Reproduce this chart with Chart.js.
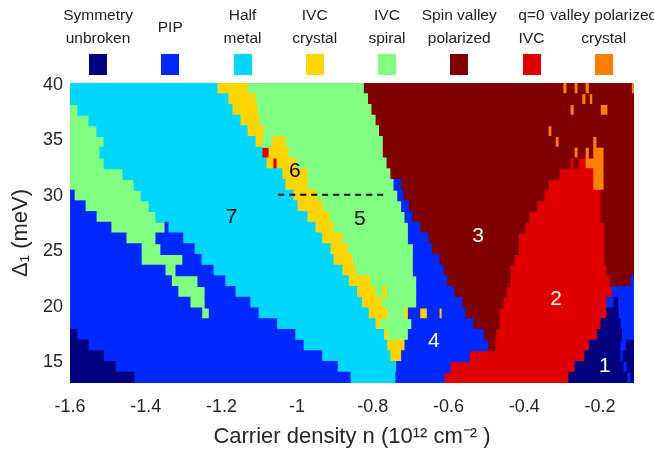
<!DOCTYPE html>
<html>
<head>
<meta charset="utf-8">
<script src="https://cdn.jsdelivr.net/npm/chart.js@4.4.1/dist/chart.umd.min.js"></script>
<style>
  html, body { margin: 0; padding: 0; background: #fff; }
  #wrap { position: relative; width: 654px; height: 458px; overflow: hidden; font-family: "Liberation Sans", Arial, sans-serif; }
  #phaseMap { position: absolute; left: 0; top: 0; }
  .key { position: absolute; top: 0; width: 140px; margin-left: -70px; text-align: center; }
  .key .txt { height: 46px; margin-top: 3px; display: flex; align-items: center; justify-content: center; font-size: 15.5px; line-height: 23px; color: #222; white-space: nowrap; }
  .key .box { width: 18px; height: 21px; margin: 5px auto 0; }
</style>
</head>
<body>
<div id="wrap">
  <canvas id="phaseMap" width="654" height="458"></canvas>
  <div id="keys"></div>
</div>
<script>
//phases, legend order
const phaseCodes = ["N", "P", "C", "Y", "G", "D", "R", "O"];
const phaseNames = ["Symmetry\nunbroken", "PIP", "Half\nmetal", "IVC\ncrystal", "IVC\nspiral", "Spin valley\npolarized", "q=0\nIVC", "valley polarized\ncrystal"];
const phaseColors = ["#000080", "#0028ff", "#00d7ff", "#ffd500", "#80ff80", "#800000", "#e00000", "#ff8000"];

//Delta_1 rows (meV), top to bottom
const deltaRows = [39.668, 38.704, 37.739, 36.775, 35.811, 34.846, 33.882, 32.918, 31.954, 30.989,
  30.025, 29.061, 28.096, 27.132, 26.168, 25.204, 24.239, 23.275, 22.311, 21.346,
  20.382, 19.418, 18.454, 17.489, 16.525, 15.561, 14.596, 13.632];

//phase sequence along n in each row (left to right)
const rowPhases = [
  "CYGDODODODO", "CYGDODOD", "GCYGDODOD", "GCYGD", "GCYGDOD", "GCYGYGDODOD",
  "GCRYGDODODOD", "GCYRYGDRDROD", "GCYGDROD", "GCYGPDROD", "PGCYGPDRD", "PGCYGPDRD",
  "PGCYGPDRD", "PGPCYGPDRD", "PGPCYGPDRD", "PGPCYGPDRD", "PGPCYGPDRD", "PGPCYGPDRD",
  "PGPCYGPDRDP", "PGPCYGYGPDRP", "PGPCYGPDRPNP", "PGPCYGYPYPYPDRNP", "PCYGPDRNP", "NPCYGPDRNP",
  "NPCYPDRNPN", "NPCYPRNPN", "NPCPRNPN", "NPCPRNPN",
];

//carrier density n where the phase changes, per row
const rowEdges = [
  [-1.212, -1.132, -0.825, -0.298, -0.287, -0.268, -0.258, -0.239, -0.228, -0.117],
  [-1.183, -1.111, -0.814, -0.248, -0.237, -0.228, -0.219],
  [-1.579, -1.172, -1.106, -0.805, -0.279, -0.268, -0.199, -0.179],
  [-1.55, -1.151, -1.101, -0.794],
  [-1.529, -1.132, -1.09, -0.785, -0.337, -0.327],
  [-1.51, -1.111, -1.093, -1.064, -1.032, -0.775, -0.318, -0.308, -0.219, -0.208],
  [-1.521, -1.093, -1.074, -1.024, -0.775, -0.268, -0.258, -0.239, -0.228, -0.219, -0.189],
  [-1.51, -1.082, -1.064, -1.053, -1.003, -0.765, -0.279, -0.268, -0.258, -0.239, -0.189],
  [-1.46, -1.04, -0.974, -0.755, -0.308, -0.219, -0.189],
  [-1.431, -1.032, -0.974, -0.744, -0.726, -0.337, -0.219, -0.189],
  [-1.589, -1.412, -1.011, -0.948, -0.734, -0.72, -0.348, -0.197],
  [-1.56, -1.391, -1.0, -0.934, -0.724, -0.706, -0.367, -0.197],
  [-1.531, -1.373, -0.974, -0.916, -0.715, -0.696, -0.387, -0.197],
  [-1.492, -1.349, -1.341, -0.953, -0.905, -0.706, -0.676, -0.398, -0.187],
  [-1.452, -1.373, -1.302, -0.935, -0.882, -0.706, -0.654, -0.416, -0.187],
  [-1.412, -1.36, -1.272, -0.913, -0.868, -0.693, -0.645, -0.416, -0.187],
  [-1.412, -1.302, -1.254, -0.905, -0.855, -0.693, -0.625, -0.427, -0.187],
  [-1.349, -1.32, -1.222, -0.882, -0.847, -0.693, -0.614, -0.438, -0.182],
  [-1.332, -1.262, -1.191, -0.865, -0.808, -0.684, -0.605, -0.438, -0.174, -0.118],
  [-1.315, -1.243, -1.164, -0.843, -0.794, -0.774, -0.765, -0.684, -0.586, -0.447, -0.167],
  [-1.283, -1.243, -1.125, -0.83, -0.777, -0.684, -0.565, -0.456, -0.182, -0.163, -0.153],
  [-1.252, -1.232, -1.103, -0.812, -0.763, -0.715, -0.706, -0.676, -0.656, -0.625, -0.617, -0.557, -0.466, -0.182, -0.152],
  [-1.054, -0.794, -0.783, -0.697, -0.535, -0.466, -0.197, -0.147],
  [-1.582, -1.006, -0.772, -0.763, -0.706, -0.507, -0.475, -0.207, -0.143],
  [-1.552, -0.984, -0.763, -0.715, -0.497, -0.477, -0.228, -0.147, -0.13],
  [-1.512, -0.935, -0.755, -0.724, -0.545, -0.24, -0.147, -0.139],
  [-1.481, -0.894, -0.737, -0.596, -0.266, -0.139, -0.128],
  [-1.431, -0.86, -0.739, -0.612, -0.282, -0.129, -0.118],
];

const nMin = -1.6;
const nMax = -0.11;
const xTickValues = [-1.6, -1.4, -1.2, -1, -0.8, -0.6, -0.4, -0.2];
const yTickValues = [15, 20, 25, 30, 35, 40];

//numbered regions
const regionNums = ["1", "2", "3", "4", "5", "6", "7"];
const regionN = [-0.187, -0.316, -0.522, -0.639, -0.834, -1.006, -1.173];
const regionDelta = [14.64, 20.71, 26.34, 16.89, 27.85, 32.17, 28.03];
const regionInk = ["#fff", "#fff", "#fff", "#fff", "#000", "#000", "#000"];

//dashed cut
const cutN = [-1.05, -0.76];
const cutDelta = [30.1, 30.1];

//build one bar dataset per phase
const segs = phaseCodes.map(() => []);
rowPhases.forEach((codes, r) => {
  const edges = [nMin, ...rowEdges[r], nMax];
  if (codes.length !== edges.length - 1) console.warn("row", r, "mismatch");
  codes.split("").forEach((c, i) => {
    segs[phaseCodes.indexOf(c)].push({ y: deltaRows[r], x: [edges[i], edges[i + 1]] });
  });
});

const datasets = [
  {
    type: "line",
    label: "cut",
    data: cutN.map((n, i) => ({ x: n, y: cutDelta[i] })),
    borderColor: "#000",
    borderWidth: 2,
    borderDash: [6, 5],
    pointRadius: 0,
    order: -1,
  },
];
phaseCodes.forEach((c, i) => {
  datasets.push({
    type: "bar",
    label: phaseNames[i],
    data: segs[i],
    backgroundColor: phaseColors[i],
    borderWidth: 0,
    grouped: false,
    barPercentage: 1,
    categoryPercentage: 1,
    inflateAmount: 0.5,
  });
});

const regionLabels = {
  id: "regionLabels",
  afterDatasetsDraw(chart) {
    const ctx = chart.ctx;
    const sx = chart.scales.x;
    const sy = chart.scales.y;
    ctx.save();
    ctx.font = '21px "Liberation Sans", Arial, sans-serif';
    ctx.textAlign = "center";
    ctx.textBaseline = "middle";
    regionNums.forEach((t, i) => {
      ctx.fillStyle = regionInk[i];
      ctx.fillText(t, sx.getPixelForValue(regionN[i]), sy.getPixelForValue(regionDelta[i]));
    });
    ctx.restore();
  },
};

Chart.defaults.font.family = '"Liberation Sans", Arial, sans-serif';
Chart.defaults.color = "#262626";

const config = {
  type: "bar",
  data: { datasets: datasets },
  options: {
    indexAxis: "y",
    responsive: false,
    animation: false,
    events: [],
    layout: { padding: { top: 83, right: 20, bottom: 0, left: 0 } },
    plugins: { legend: { display: false }, tooltip: { enabled: false } },
    scales: {
      x: {
        type: "linear",
        min: nMin,
        max: nMax,
        beginAtZero: false,
        grid: { display: false, drawTicks: false },
        border: { display: false },
        afterBuildTicks: (s) => { s.ticks = xTickValues.map((v) => ({ value: v })); },
        afterFit: (s) => { s.height = 75; },
        ticks: {
          font: { size: 18 },
          padding: 13,
          maxRotation: 0,
          autoSkip: false,
          callback: (v) => String(Math.round(v * 10) / 10),
        },
        title: {
          display: true,
          text: "Carrier density n (10\u00b9\u00b2 cm\u207b\u00b2 )",
          font: { size: 22 },
          padding: { top: 0, bottom: 8 },
        },
      },
      y: {
        type: "linear",
        min: 13.15,
        max: 40.15,
        offset: false,
        grid: { display: false, drawTicks: false, offset: false },
        border: { display: false },
        afterBuildTicks: (s) => { s.ticks = yTickValues.map((v) => ({ value: v })); },
        afterFit: (s) => { s.width = 70; },
        ticks: { font: { size: 18 }, padding: 7 },
        title: {
          display: true,
          text: "\u0394\u2081 (meV)",
          font: { size: 22 },
          padding: { top: 8, bottom: 0 },
        },
      },
    },
  },
  plugins: [regionLabels],
};

const myChart = new Chart(document.getElementById("phaseMap"), config);

//legend row on top
const keyBox = document.getElementById("keys");
phaseNames.forEach((name, i) => {
  const k = document.createElement("div");
  k.className = "key";
  k.style.left = 98 + 72.25 * i + "px";
  k.innerHTML = '<div class="txt"><div>' + name.replace("\n", "<br>") + '</div></div><div class="box" style="background:' + phaseColors[i] + '"></div>';
  keyBox.appendChild(k);
});
</script>
</body>
</html>
